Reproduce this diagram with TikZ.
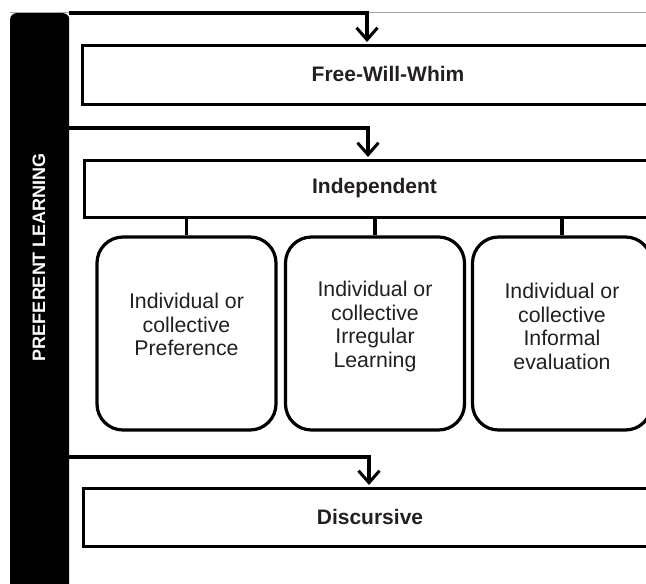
\documentclass[tikz,border=0pt]{standalone}
\usepackage{fontspec}
\setmainfont{Liberation Sans}
\usetikzlibrary{arrows.meta}
\definecolor{ink}{RGB}{35,31,32}
\begin{document}
\begin{tikzpicture}[x=1pt,y=-1pt,
  box/.style={draw=black,line width=3pt,rectangle,inner sep=0pt},
  child/.style={draw=black,line width=3.2pt,rectangle,rounded corners=26pt,inner sep=0pt,minimum width=179pt,minimum height=193pt},
  lbl/.style={font=\fontsize{21}{24}\selectfont\bfseries,text=ink,inner sep=0pt},
  ctext/.style={font=\fontsize{21.3}{23.5}\selectfont,text=ink,align=center,inner sep=0pt},
  flow/.style={line width=3.3pt,-{Straight Barb[length=12pt,width=21pt,line width=3pt]}},
  link/.style={line width=3.3pt}]
\useasboundingbox (0,0) rectangle (646,584);
\begin{scope}
\clip (0,0) rectangle (646,584);
% thin frame line
\draw[gray!70,line width=0.8pt] (10,12) -- (660,12);
% side bar
\node[fill=black,rectangle,rounded corners=6pt,minimum width=59pt,minimum height=620pt,anchor=north west,inner sep=0pt] (bar) at (10,13) {};
\node[rotate=90,font=\fontsize{18}{20}\selectfont\bfseries,text=white,inner sep=0pt] (side) at (39,257) {PREFERENT LEARNING};
% boxes
\node[box,minimum width=612pt,minimum height=59pt] (fww) at (388,74.5) {};
\node[lbl] (fwwt) at (388,74) {Free-Will-Whim};
\node[box,minimum width=610pt,minimum height=57pt] (ind) at (389,188.5) {};
\node[lbl] (indt) at (374.5,188) {Independent};
\node[box,minimum width=574pt,minimum height=58pt] (dis) at (370,517) {};
\node[lbl] (dist) at (370,516.5) {Discursive};
% children
\node[child] (c1) at (186.5,333.5) {};
\node[child] (c2) at (375,333.5) {};
\node[child] (c3) at (562,333.5) {};
\node[ctext] (t1) at ([yshift=9pt]c1.center) {Individual or\\collective\\Preference};
\node[ctext] (t2) at ([yshift=7pt]c2.center) {Individual or\\collective\\Irregular\\Learning};
\node[ctext] (t3) at ([yshift=7pt]c3.center) {Individual or\\collective\\Informal\\evaluation};
\draw[link] (c1.north) -- (c1.north |- ind.south);
\draw[link] (c2.north) -- (c2.north |- ind.south);
\draw[link] (c3.north) -- (c3.north |- ind.south);
% arrows from bar
\coordinate (a1) at (367,0);
\coordinate (a2) at (368,0);
\coordinate (a3) at (369,0);
\draw[flow] (bar.east |- 0,13) -| ([yshift=1.5pt]fww.north -| a1);
\draw[flow] (bar.east |- 0,128) -| ([yshift=1.5pt]ind.north -| a2);
\draw[flow] (bar.east |- 0,457) -| ([yshift=1.5pt]dis.north -| a3);
\end{scope}
\end{tikzpicture}
\end{document}
